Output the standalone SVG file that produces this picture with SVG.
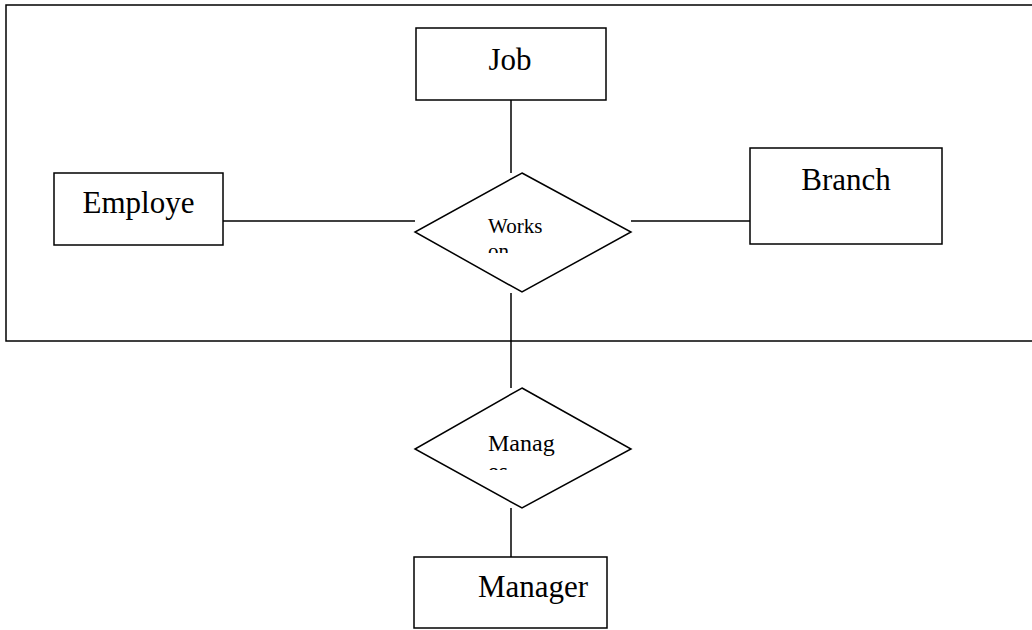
<svg xmlns="http://www.w3.org/2000/svg" width="1032" height="630" viewBox="0 0 1032 630">
<style>
.s{fill:#fff;stroke:#000;stroke-width:1.5}
.c{stroke:#000;stroke-width:1.5;fill:none}
.t{font-family:"Liberation Serif","Times New Roman",serif;fill:#000}
.big{font-size:31px}
</style>
<defs>
<clipPath id="cw"><rect x="470" y="210" width="100" height="43"/></clipPath>
<clipPath id="cm"><rect x="470" y="425" width="100" height="45"/></clipPath>
</defs>
<rect width="1032" height="630" fill="#fff"/>
<g id="frame"><rect class="c" x="6" y="5" width="1040" height="336"/></g>
<g id="connectors">
<line class="c" x1="511" y1="100" x2="511" y2="173"/>
<line class="c" x1="223" y1="221" x2="415" y2="221"/>
<line class="c" x1="631" y1="221" x2="750" y2="221"/>
<line class="c" x1="511" y1="293" x2="511" y2="388"/>
<line class="c" x1="511" y1="508" x2="511" y2="557"/>
</g>
<g id="job"><rect class="s" x="416" y="28" width="190" height="72"/><text class="t big" x="510" y="70" text-anchor="middle">Job</text></g>
<g id="employe"><rect class="s" x="54" y="173" width="169" height="72"/><text class="t big" x="138.5" y="213" text-anchor="middle">Employe</text></g>
<g id="branch"><rect class="s" x="750" y="148" width="192" height="96"/><text class="t big" x="846" y="190" text-anchor="middle">Branch</text></g>
<g id="workson"><polygon class="s" points="522,173 631,232 522,292 415,232"/><g clip-path="url(#cw)"><text class="t" font-size="21" x="488" y="233">Works</text><text class="t" font-size="21" x="488" y="257.5">on</text></g></g>
<g id="manages"><polygon class="s" points="522,388 631,449 522,508 415,449"/><g clip-path="url(#cm)"><text class="t" font-size="24" x="488" y="451">Manag</text><text class="t" font-size="24" x="488" y="478.5">es</text></g></g>
<g id="manager"><rect class="s" x="414" y="557" width="193" height="71"/><text class="t big" x="478" y="597">Manager</text></g>
</svg>
